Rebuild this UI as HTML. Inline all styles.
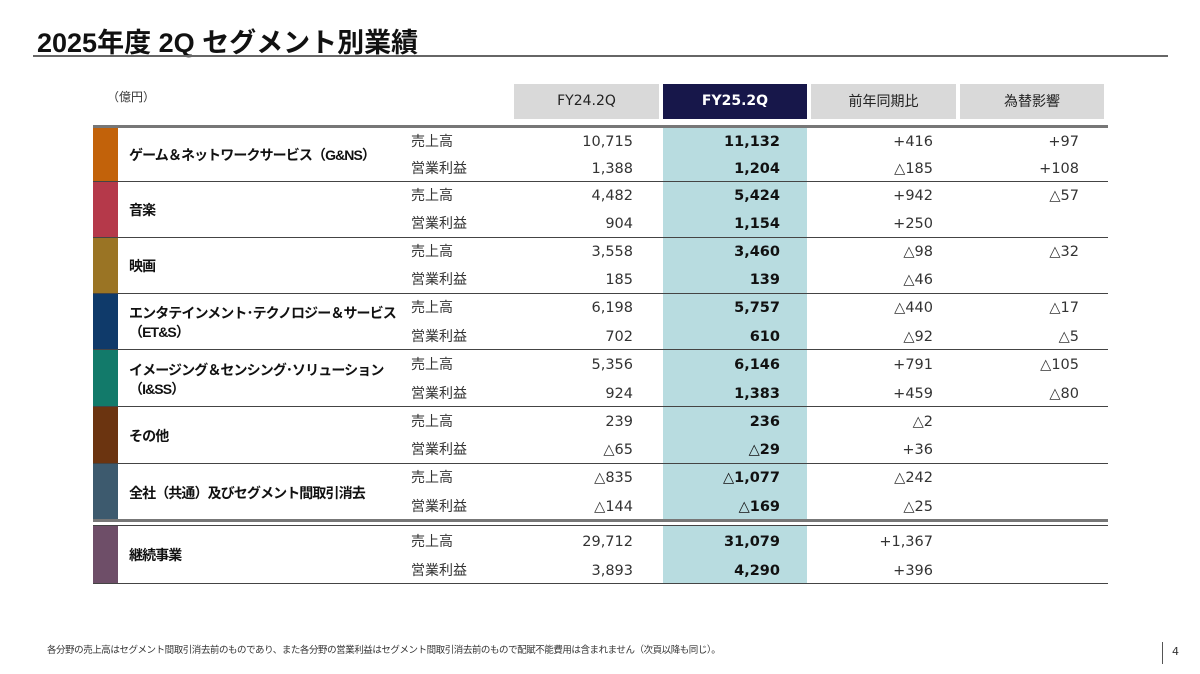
<!DOCTYPE html>
<html><head><meta charset="utf-8"><style>
body{margin:0;width:1200px;height:674px;background:#fff;position:relative;overflow:hidden;font-family:"DejaVu Sans","Noto Sans CJK JP",sans-serif;color:#222}
div{position:absolute}
.t{font-family:"Liberation Sans","Noto Sans CJK JP",sans-serif;font-weight:bold;font-size:27px;left:37px;top:21px;color:#111}
.h{top:84px;height:35px;line-height:35px;text-align:center;font-size:14px;background:#d9d9d9;font-family:"DejaVu Sans","Noto Sans CJK JP",sans-serif}
.bar{left:93px;width:25px}
.seg{left:129px;font-size:14px;font-weight:bold;font-family:"Liberation Sans","Noto Sans CJK JP",sans-serif;line-height:19px;color:#111;letter-spacing:-0.9px}
.m{left:411px;font-size:14px;font-family:"Noto Sans CJK JP",sans-serif;color:#333;line-height:20px}
.v{font-size:14.5px;text-align:right;line-height:20px;width:120px;color:#333}
.a{left:513px}.b{left:660px;font-weight:bold;color:#111}.c{left:813px}.d{left:959px}
.ln{left:93px;width:1015px;height:1px;background:#444}
</style></head><body>
<div class="t">2025年度 2Q セグメント別業績</div>
<div style="left:33px;top:55px;width:1135px;height:2px;background:#666"></div>
<div style="left:107px;top:88px;font-size:12px;font-family:'Noto Sans CJK JP',sans-serif;color:#333">（億円）</div>
<div class="h" style="left:514px;width:145px">FY24.2Q</div>
<div class="h" style="left:663px;width:144px;background:#17174a;color:#fff;font-weight:bold">FY25.2Q</div>
<div class="h" style="left:811px;width:145px;font-family:'Noto Sans CJK JP',sans-serif">前年同期比</div>
<div class="h" style="left:960px;width:144px;font-family:'Noto Sans CJK JP',sans-serif">為替影響</div>
<div style="left:663px;top:127px;width:144px;height:392px;background:#b8dce0"></div>
<div style="left:663px;top:525px;width:144px;height:58px;background:#b8dce0"></div>

<div class="ln" style="top:125px;height:3px;background:#777"></div>
<div class="ln" style="top:181px"></div><div class="ln" style="top:237px"></div><div class="ln" style="top:293px"></div><div class="ln" style="top:349px"></div><div class="ln" style="top:406px"></div><div class="ln" style="top:463px"></div>
<div class="ln" style="top:519px;height:3px;background:#777"></div>
<div class="ln" style="top:525px"></div>
<div class="ln" style="top:583px"></div>

<div class="bar" style="top:128px;height:53px;background:#c2620a"></div>
<div class="bar" style="top:182px;height:55px;background:#b5394a"></div>
<div class="bar" style="top:238px;height:55px;background:#9a7424"></div>
<div class="bar" style="top:294px;height:55px;background:#0f3a6a"></div>
<div class="bar" style="top:350px;height:56px;background:#127a6a"></div>
<div class="bar" style="top:407px;height:56px;background:#6b3410"></div>
<div class="bar" style="top:464px;height:55px;background:#3d5a6e"></div>
<div class="bar" style="top:526px;height:57px;background:#6e4e68"></div>

<div class="seg" style="top:146px">ゲーム＆ネットワークサービス（G&amp;NS）</div>
<div class="seg" style="top:201px">音楽</div>
<div class="seg" style="top:257px">映画</div>
<div class="seg" style="top:304px">エンタテインメント･テクノロジー＆サービス<br>（ET&amp;S）</div>
<div class="seg" style="top:361px">イメージング＆センシング･ソリューション<br>（I&amp;SS）</div>
<div class="seg" style="top:427px">その他</div>
<div class="seg" style="top:484px">全社（共通）及びセグメント間取引消去</div>
<div class="seg" style="top:546px">継続事業</div>

<div class="m" style="top:131px">売上高</div><div class="m" style="top:158px">営業利益</div>
<div class="m" style="top:185px">売上高</div><div class="m" style="top:213px">営業利益</div>
<div class="m" style="top:241px">売上高</div><div class="m" style="top:269px">営業利益</div>
<div class="m" style="top:297px">売上高</div><div class="m" style="top:326px">営業利益</div>
<div class="m" style="top:354px">売上高</div><div class="m" style="top:383px">営業利益</div>
<div class="m" style="top:411px">売上高</div><div class="m" style="top:439px">営業利益</div>
<div class="m" style="top:467px">売上高</div><div class="m" style="top:496px">営業利益</div>
<div class="m" style="top:531px">売上高</div><div class="m" style="top:560px">営業利益</div>

<div class="v a" style="top:132px">10,715</div><div class="v b" style="top:132px">11,132</div><div class="v c" style="top:132px">+416</div><div class="v d" style="top:132px">+97</div>
<div class="v a" style="top:159px">1,388</div><div class="v b" style="top:159px">1,204</div><div class="v c" style="top:159px">△185</div><div class="v d" style="top:159px">+108</div>
<div class="v a" style="top:186px">4,482</div><div class="v b" style="top:186px">5,424</div><div class="v c" style="top:186px">+942</div><div class="v d" style="top:186px">△57</div>
<div class="v a" style="top:214px">904</div><div class="v b" style="top:214px">1,154</div><div class="v c" style="top:214px">+250</div>
<div class="v a" style="top:242px">3,558</div><div class="v b" style="top:242px">3,460</div><div class="v c" style="top:242px">△98</div><div class="v d" style="top:242px">△32</div>
<div class="v a" style="top:270px">185</div><div class="v b" style="top:270px">139</div><div class="v c" style="top:270px">△46</div>
<div class="v a" style="top:298px">6,198</div><div class="v b" style="top:298px">5,757</div><div class="v c" style="top:298px">△440</div><div class="v d" style="top:298px">△17</div>
<div class="v a" style="top:327px">702</div><div class="v b" style="top:327px">610</div><div class="v c" style="top:327px">△92</div><div class="v d" style="top:327px">△5</div>
<div class="v a" style="top:355px">5,356</div><div class="v b" style="top:355px">6,146</div><div class="v c" style="top:355px">+791</div><div class="v d" style="top:355px">△105</div>
<div class="v a" style="top:384px">924</div><div class="v b" style="top:384px">1,383</div><div class="v c" style="top:384px">+459</div><div class="v d" style="top:384px">△80</div>
<div class="v a" style="top:412px">239</div><div class="v b" style="top:412px">236</div><div class="v c" style="top:412px">△2</div>
<div class="v a" style="top:440px">△65</div><div class="v b" style="top:440px">△29</div><div class="v c" style="top:440px">+36</div>
<div class="v a" style="top:468px">△835</div><div class="v b" style="top:468px">△1,077</div><div class="v c" style="top:468px">△242</div>
<div class="v a" style="top:497px">△144</div><div class="v b" style="top:497px">△169</div><div class="v c" style="top:497px">△25</div>
<div class="v a" style="top:532px">29,712</div><div class="v b" style="top:532px">31,079</div><div class="v c" style="top:532px">+1,367</div>
<div class="v a" style="top:561px">3,893</div><div class="v b" style="top:561px">4,290</div><div class="v c" style="top:561px">+396</div>

<div style="left:47px;top:642px;font-size:9.5px;letter-spacing:-0.45px;font-family:'Noto Sans CJK JP',sans-serif;color:#333;white-space:nowrap">各分野の売上高はセグメント間取引消去前のものであり、また各分野の営業利益はセグメント間取引消去前のもので配賦不能費用は含まれません（次頁以降も同じ）。</div>
<div style="left:1162px;top:642px;width:1px;height:22px;background:#555"></div>
<div style="left:1172px;top:645px;font-size:11px;color:#333">4</div>
</body></html>
